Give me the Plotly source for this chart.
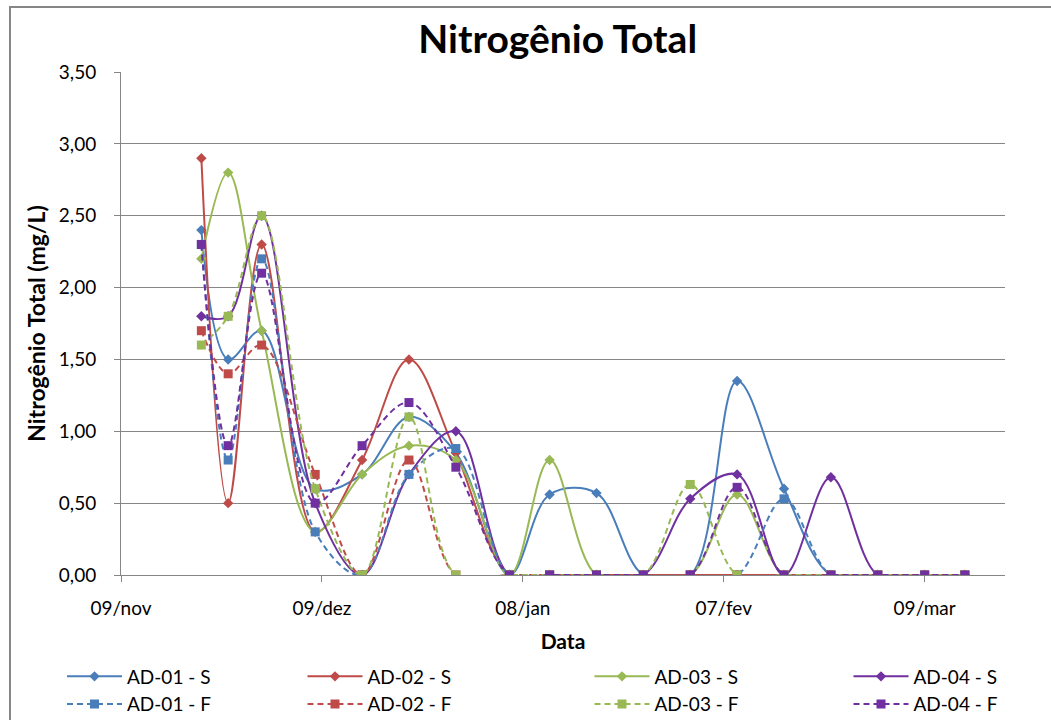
import plotly.graph_objects as go

dates = ["2009-11-21", "2009-11-25", "2009-11-30", "2009-12-08", "2009-12-15",
         "2009-12-22", "2009-12-29", "2010-01-06", "2010-01-12", "2010-01-19",
         "2010-01-26", "2010-02-02", "2010-02-09", "2010-02-16", "2010-02-23",
         "2010-03-02", "2010-03-09", "2010-03-15"]

ad01_s = [2.40, 1.50, 1.70, 0.60, 0.70, 1.10, 0.85, 0.00, 0.56, 0.57, 0.00, 0.00, 1.35, 0.60, 0.00, 0.00, 0.00, 0.00]
ad02_s = [2.90, 0.50, 2.30, 0.30, 0.80, 1.50, 0.85, 0.00, 0.00, 0.00, 0.00, 0.00, 0.00, 0.00, 0.00, 0.00, 0.00, 0.00]
ad03_s = [2.20, 2.80, 1.70, 0.30, 0.70, 0.90, 0.80, 0.00, 0.80, 0.00, 0.00, 0.00, 0.56, 0.00, 0.00, 0.00, 0.00, 0.00]
ad04_s = [1.80, 1.80, 2.50, 0.50, 0.00, 0.70, 1.00, 0.00, 0.00, 0.00, 0.00, 0.53, 0.70, 0.00, 0.68, 0.00, 0.00, 0.00]
ad01_f = [2.30, 0.80, 2.20, 0.30, 0.00, 0.70, 0.88, 0.00, 0.00, 0.00, 0.00, 0.00, 0.00, 0.53, 0.00, 0.00, 0.00, 0.00]
ad02_f = [1.70, 1.40, 1.60, 0.70, 0.00, 0.80, 0.00, 0.00, 0.00, 0.00, 0.00, 0.00, 0.00, 0.00, 0.00, 0.00, 0.00, 0.00]
ad03_f = [1.60, 1.80, 2.50, 0.60, 0.00, 1.10, 0.00, 0.00, 0.00, 0.00, 0.00, 0.63, 0.00, 0.00, 0.00, 0.00, 0.00, 0.00]
ad04_f = [2.30, 0.90, 2.10, 0.50, 0.90, 1.20, 0.75, 0.00, 0.00, 0.00, 0.00, 0.00, 0.61, 0.00, 0.00, 0.00, 0.00, 0.00]

tick_vals = ["2009-11-09", "2009-12-09", "2010-01-08", "2010-02-07", "2010-03-09"]
tick_text = ["09/nov", "09/dez", "08/jan", "07/fev", "09/mar"]

# name, values, color, dash, symbol, legend column
series = [
    ("AD-01 - S", ad01_s, "#4A7EBB", "solid", "diamond", "legend"),
    ("AD-02 - S", ad02_s, "#BE4B48", "solid", "diamond", "legend2"),
    ("AD-03 - S", ad03_s, "#98B954", "solid", "diamond", "legend3"),
    ("AD-04 - S", ad04_s, "#7030A0", "solid", "diamond", "legend4"),
    ("AD-01 - F", ad01_f, "#4A7EBB", "6px,4px", "square", "legend"),
    ("AD-02 - F", ad02_f, "#BE4B48", "6px,4px", "square", "legend2"),
    ("AD-03 - F", ad03_f, "#98B954", "6px,4px", "square", "legend3"),
    ("AD-04 - F", ad04_f, "#7030A0", "6px,4px", "square", "legend4"),
]

FONT = "Lato"
ML, MR, MT, MB = 121, 46, 72, 145
PW = 1051 - ML - MR

fig = go.Figure()
for name, vals, color, dash, sym, leg in series:
    fig.add_trace(go.Scatter(
        x=dates, y=vals, name=name, mode="lines+markers", legend=leg,
        line=dict(color=color, width=2, dash=dash, shape="spline", smoothing=1.0),
        marker=dict(symbol=sym, size=8 if sym == "diamond" else 9, color=color),
    ))

legend_x_px = [62, 302.5, 589.5, 848.5]
legend_common = dict(orientation="v", xref="paper", yref="container",
                     xanchor="left", y=0.0868, yanchor="top",
                     itemwidth=55, tracegroupgap=0,
                     font=dict(family=FONT, size=19, color="#000000"),
                     bgcolor="rgba(0,0,0,0)")
legends = {}
for i, key in enumerate(["legend", "legend2", "legend3", "legend4"]):
    legends[key] = dict(legend_common, x=(legend_x_px[i] - ML) / PW)

fig.update_layout(
    width=1051, height=720,
    paper_bgcolor="white", plot_bgcolor="white",
    separators=",.",
    margin=dict(l=ML, r=MR, t=MT, b=MB, autoexpand=False),
    font=dict(family=FONT, color="#000000", size=19),
    title=dict(text="<b>Nitrogênio Total</b>", x=0.494, xref="paper", xanchor="center",
               y=0.946, yref="container", yanchor="middle",
               font=dict(family=FONT, size=39, color="#000000")),
    showlegend=True,
    **legends,
    xaxis=dict(
        type="date", range=["2009-11-09", "2010-03-21"],
        tickvals=tick_vals, ticktext=tick_text,
        showgrid=False, zeroline=False, automargin=False,
        showline=True, linecolor="#868686", linewidth=1,
        ticks="outside", ticklen=6, tickcolor="#868686",
        ticklabelstandoff=10,
        tickfont=dict(family=FONT, size=19),
        title=dict(text="<b>Data</b>", font=dict(family=FONT, size=21), standoff=16),
    ),
    yaxis=dict(
        range=[0, 3.5], dtick=0.5, tick0=0, tickformat=".2f",
        showgrid=True, gridcolor="#868686", gridwidth=1,
        zeroline=False, automargin=False,
        showline=True, linecolor="#868686", linewidth=1,
        ticks="outside", ticklen=6, tickcolor="#868686",
        ticklabelstandoff=14,
        tickfont=dict(family=FONT, size=19),
        title=dict(text="<b>Nitrogênio Total (mg/L)</b>", font=dict(family=FONT, size=23), standoff=6),
    ),
    shapes=[dict(type="rect", xref="paper", yref="paper",
                 x0=(10 - ML) / PW, x1=1.2, y0=-0.5, y1=(575 - 7) / 503,
                 line=dict(color="#868686", width=2), layer="below")],
)

fig.write_html("out.html")
